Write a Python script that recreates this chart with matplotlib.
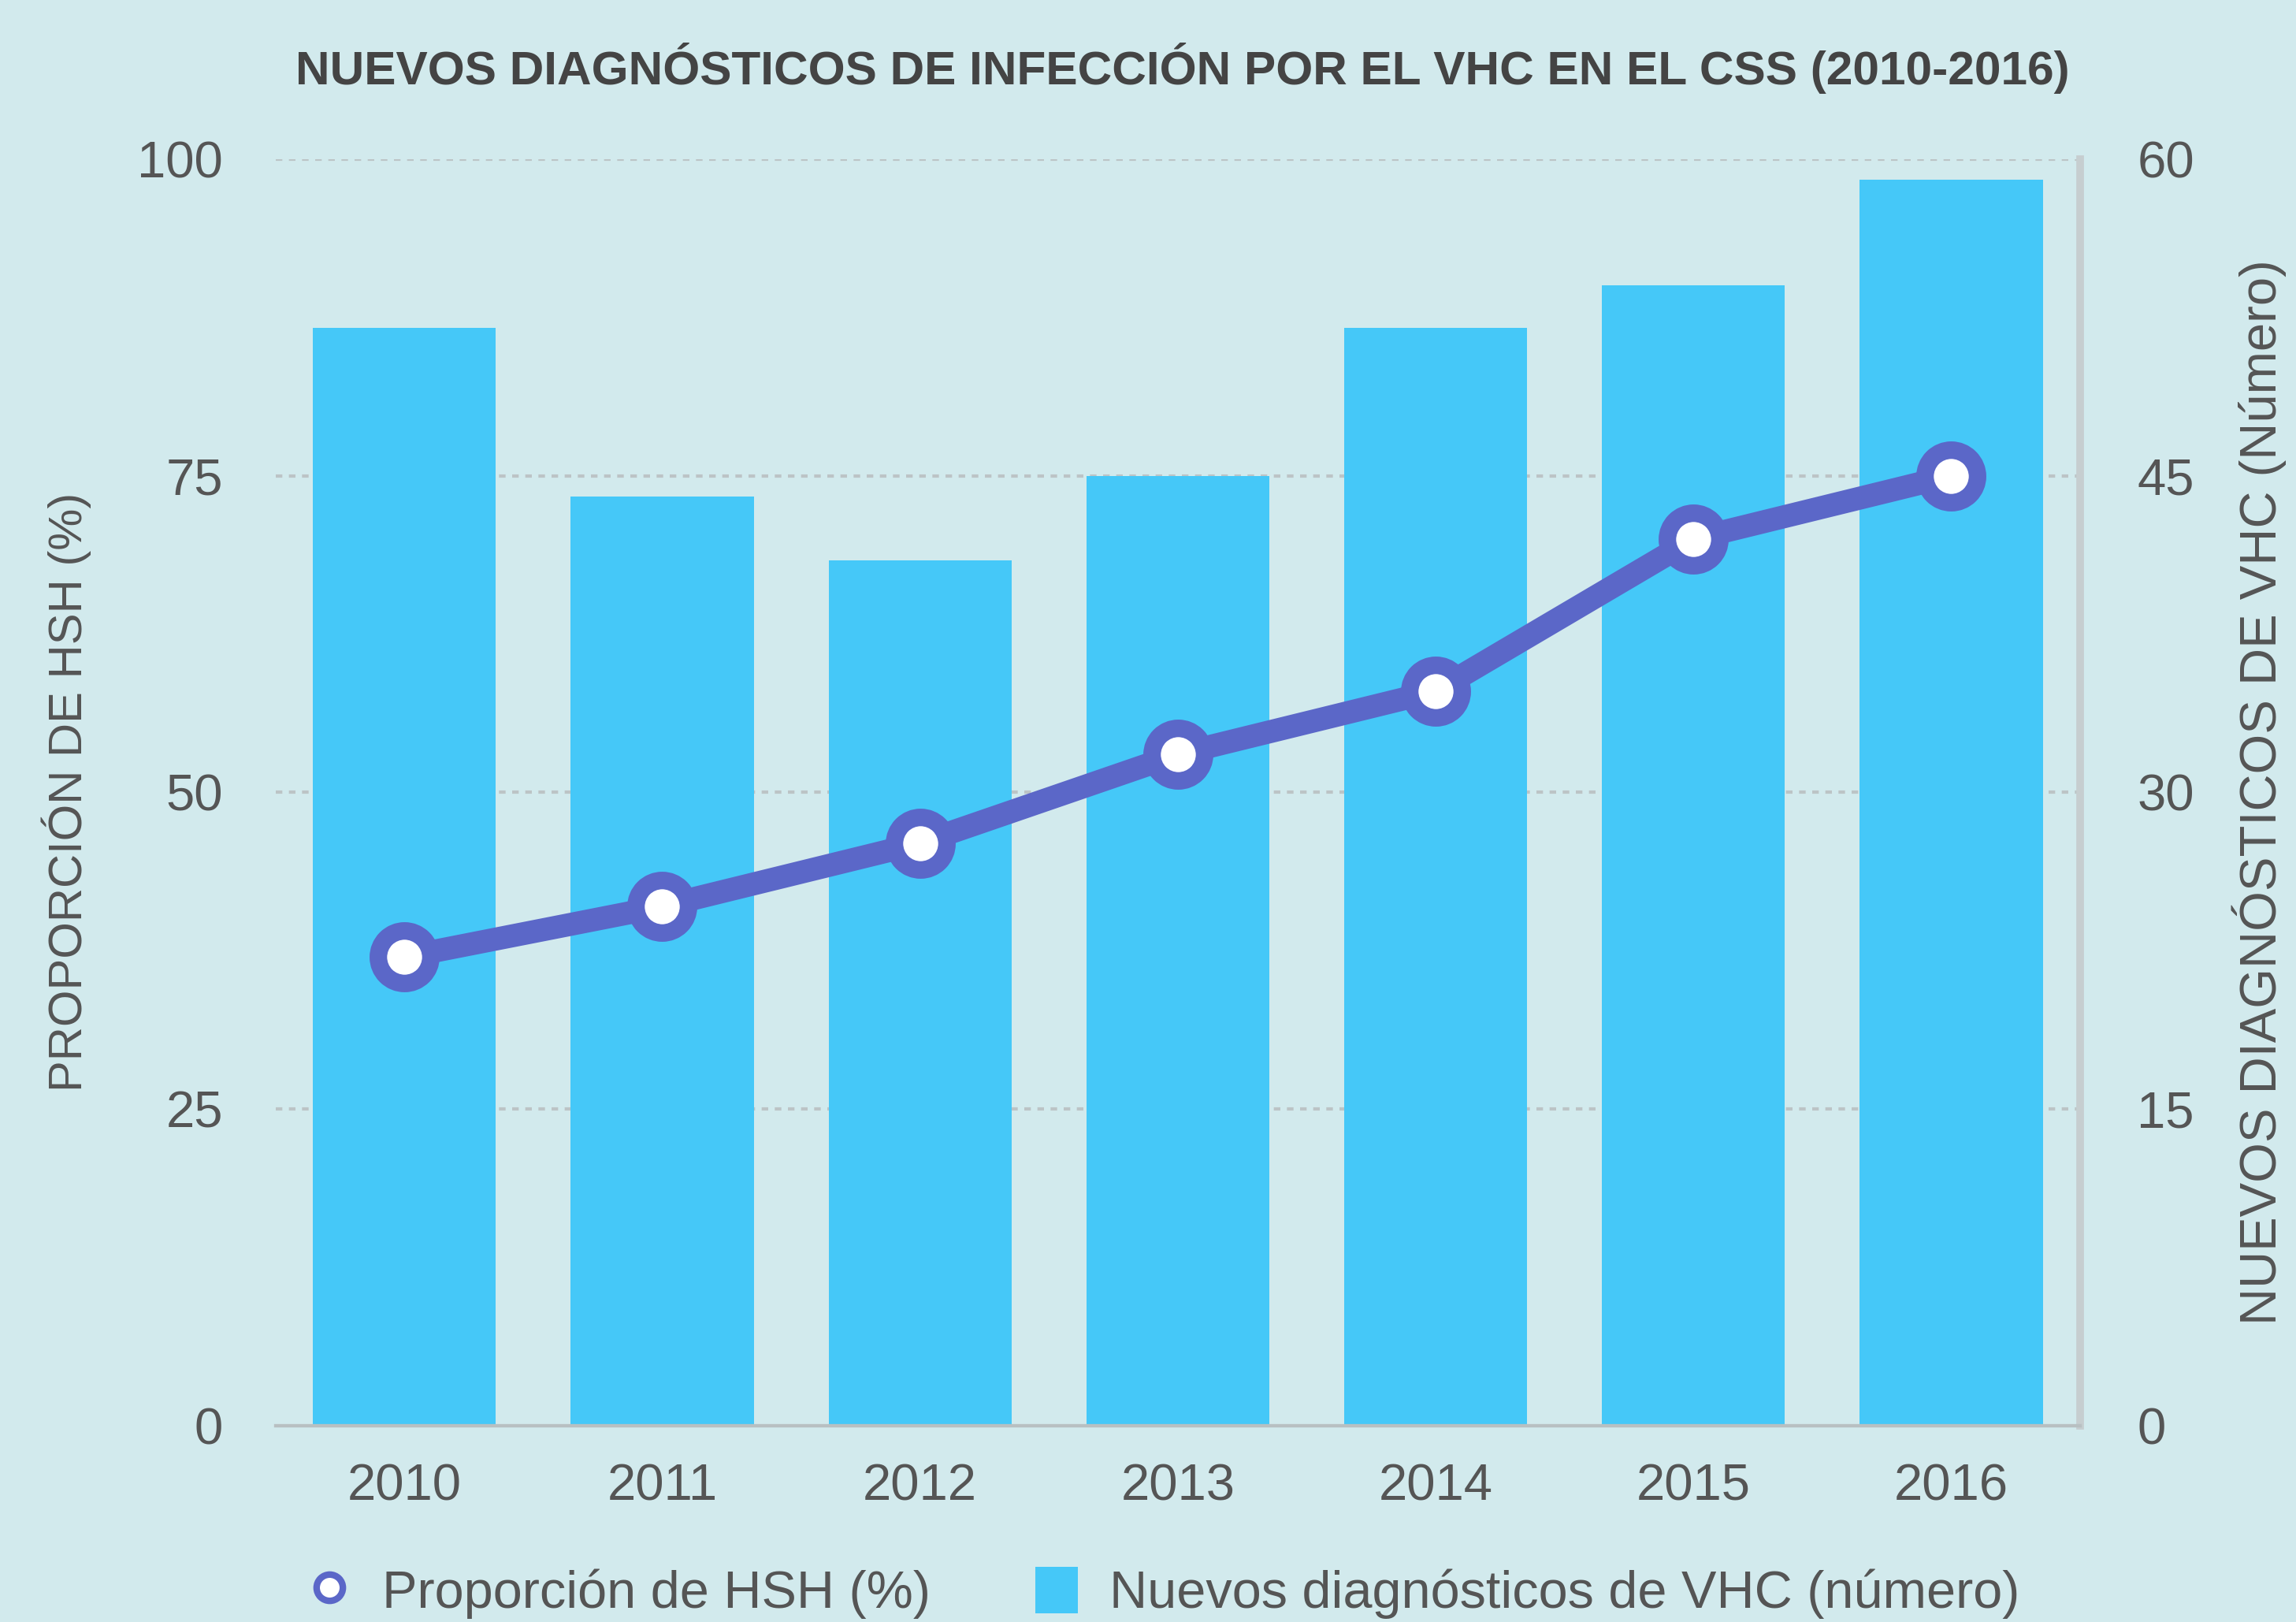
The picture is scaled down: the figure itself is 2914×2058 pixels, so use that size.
import matplotlib
matplotlib.use("Agg")
import matplotlib.pyplot as plt
from matplotlib.lines import Line2D
from matplotlib.patches import Patch

# data
years = ["2010", "2011", "2012", "2013", "2014", "2015", "2016"]
nuevos_vhc = [52, 44, 41, 45, 52, 54, 59]      # bars, right axis
prop_hsh = [37, 41, 46, 53, 58, 70, 75]        # line, left axis

left_ticks = [0, 25, 50, 75, 100]
right_ticks = [0, 15, 30, 45, 60]

bg = "#D2EAED"
bar_col = "#45C8F8"
line_col = "#5B67C8"
txt_col = "#555555"

plt.rcParams['font.family'] = ['Liberation Sans', 'DejaVu Sans']

fig = plt.figure(figsize=(29.14, 20.58), dpi=100, facecolor=bg)
ax = fig.add_axes([0.12, 0.121, 0.786, 0.781])
ax2 = ax.twinx()

x = list(range(len(years)))

ax2.bar(x, nuevos_vhc, width=0.71, color=bar_col, zorder=2)
ax2.set_ylim(0, 60)
ax2.set_yticks(right_ticks)

ax.plot(x, prop_hsh, color=line_col, lw=21, marker="o", ms=48,
        mfc="white", mec=line_col, mew=16, zorder=5, solid_capstyle="round")
ax.set_ylim(0, 100)
ax.set_yticks(left_ticks)
ax.set_xlim(-0.5, len(years) - 0.5)
ax.set_xticks(x)
ax.set_xticklabels(years)

# line axis above bar axis
ax.set_zorder(ax2.get_zorder() + 1)
ax.patch.set_visible(False)
ax2.patch.set_facecolor(bg)

# dotted grid on the bar axis (behind the bars)
for t in right_ticks[1:]:
    ax2.axhline(t, color="#BCC4C6", lw=3, ls=(0, (2, 2)), zorder=1)

for a in (ax, ax2):
    for s in ("top", "left"):
        a.spines[s].set_visible(False)
    a.spines["bottom"].set_color("#B8C0C2")
    a.spines["bottom"].set_linewidth(3)
    a.spines["right"].set_color("#C6CED0")
    a.spines["right"].set_linewidth(7)
    a.tick_params(length=0, labelsize=47, colors=txt_col)
ax.spines["right"].set_visible(False)

ax.tick_params(axis="y", pad=48)
ax2.tick_params(axis="y", pad=52)
ax.tick_params(axis="x", pad=34)

ax.set_ylabel("PROPORCIÓN DE HSH (%)", fontsize=43, color=txt_col, labelpad=42)
ax2.set_ylabel("NUEVOS DIAGNÓSTICOS DE VHC (Número)", fontsize=47,
               color=txt_col, labelpad=34)

fig.text(0.515, 0.958, "NUEVOS DIAGNÓSTICOS DE INFECCIÓN POR EL VHC EN EL CSS (2010-2016)",
         ha="center", va="center", fontsize=43.5, fontweight="bold", color="#444444")

handles = [
    Line2D([], [], color=line_col, marker="o", ls="none", ms=24,
           mfc="white", mec=line_col, mew=6),
    Patch(facecolor=bar_col),
]
fig.legend(handles, ["Proporción de HSH (%)", "Nuevos diagnósticos de VHC (número)"],
           loc="center", bbox_to_anchor=(0.507, 0.018), ncol=2, frameon=False,
           fontsize=48, labelcolor=txt_col, handlelength=0.8, handleheight=1.0,
           handletextpad=0.6, columnspacing=2.0)

fig.savefig("out.png", dpi=100, facecolor=bg)
